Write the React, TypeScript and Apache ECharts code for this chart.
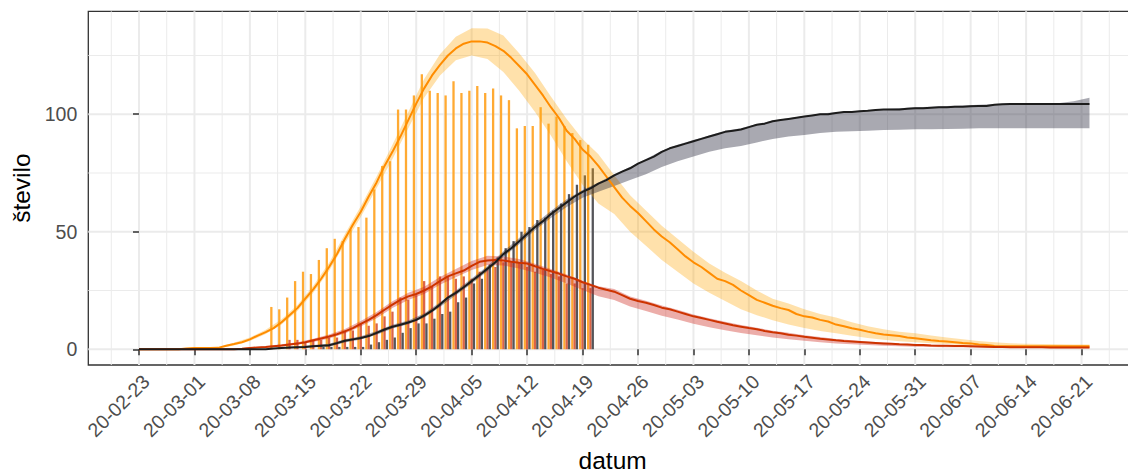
import { useEffect, useRef } from 'react';
import * as echarts from 'echarts';

const FONT = 'Liberation Sans';

// x values are days counted from 2020-02-23
const tickLabels = ['20-02-23', '20-03-01', '20-03-08', '20-03-15', '20-03-22', '20-03-29', '20-04-05', '20-04-12', '20-04-19', '20-04-26', '20-05-03', '20-05-10', '20-05-17', '20-05-24', '20-05-31', '20-06-07', '20-06-14', '20-06-21'];
const tickDays = [0, 7, 14, 21, 28, 35, 42, 49, 56, 63, 70, 77, 84, 91, 98, 105, 112, 119];
const minorXDays = [-3.5, 3.5, 10.5, 17.5, 24.5, 31.5, 38.5, 45.5, 52.5, 59.5, 66.5, 73.5, 80.5, 87.5, 94.5, 101.5, 108.5, 115.5, 122.5];
const yTicks = [0, 50, 100];
const yMinor = [25, 75, 125];

// model lines, one value per day, day 0 .. day 120
const orangeLine = [
  0, 0, 0, 0, 0, 0, 0.3, 0.5, 0.5, 0.5, 0.6,
  1.5, 2.2, 3, 4.2, 5.8, 7.3, 9, 11.5, 14.5, 17.5,
  21.5, 25.5, 30, 35, 40.5, 47, 53, 58.5, 65, 71,
  78, 84, 90.5, 97.5, 104.5, 111, 116.5, 121, 125, 128,
  130, 131, 131, 130.5, 129, 127, 124, 120.5, 117, 112.5,
  108, 103, 98.5, 93, 89.5, 85, 82, 78, 73.5, 69,
  64.5, 61, 58, 54.5, 51, 48, 45.5, 42.5, 39.5, 37,
  35, 32.5, 30, 29, 27.4, 25, 23, 21, 19.8, 18.5,
  17.5, 16.7, 15, 14, 13.5, 12.5, 11.8, 10.5, 9.8, 8.9,
  8.3, 7.5, 6.8, 6.3, 6, 5.6, 5, 4.7, 4.3, 3.8,
  3.5, 3.3, 3, 2.7, 2.5, 2, 1.8, 1.4, 1.3, 1.3,
  1.3, 1.3, 1.3, 1.3, 1.3, 1.3, 1.3, 1.3, 1.3, 1.3,
];
const redLine = [
  0, 0, 0, 0, 0, 0, 0, 0, 0, 0, 0, 0, 0,
  0.2, 0.5, 0.8, 1, 1.3, 1.6, 2, 2.4,
  3, 3.8, 4.6, 5.4, 6.4, 7.6, 9, 10.8, 12.5, 14.5,
  16.8, 19, 21, 22.5, 23.5, 25, 26.8, 29, 31, 32.3,
  33.5, 35.5, 37.2, 37.8, 38, 37.8, 37.2, 36.8, 36.5, 35.3,
  34.2, 33.2, 32.2, 31, 30, 28.5, 27.4, 26.2, 25.3, 24.5,
  23, 21.5, 20.5, 19.8, 18.8, 17.7, 17, 16, 15, 14,
  13.3, 12.5, 11.7, 11, 10.2, 9.6, 9, 8.5, 7.8, 7.2,
  6.8, 6.2, 5.8, 5.3, 4.9, 4.5, 4.2, 3.8, 3.5, 3.3,
  3.1, 2.9, 2.7, 2.5, 2.3, 2.1, 2, 1.8, 1.8, 1.6,
  1.5, 1.5, 1.4, 1.4, 1.3, 1.2, 1.1, 1, 1, 0.9,
  0.9, 0.8, 0.8, 0.8, 0.7, 0.7, 0.7, 0.7, 0.7, 0.7,
];
const blackLine = [
  0, 0, 0, 0, 0, 0, 0, 0, 0, 0, 0, 0, 0, 0, 0, 0, 0,
  0.3, 0.5, 0.7, 0.9,
  1, 1.3, 1.5, 1.7, 2.6, 3.6, 4.2, 4.8, 5.6, 7,
  8.4, 9.6, 10.4, 11.4, 12.5, 14.3, 16.4, 19, 22, 24,
  26.4, 29, 31.6, 34.3, 37, 40.5, 43, 46, 49, 52,
  54.5, 57.5, 60, 62.5, 65, 67, 68.5, 70.5, 72, 74,
  75.6, 77, 79, 80.5, 82, 84, 85.5, 86.5, 87.5, 88.5,
  89.5, 90.5, 91.5, 92.5, 93, 93.5, 94.5, 95.5, 96, 97,
  97.5, 98, 98.5, 99, 99.5, 100, 100, 100.5, 101, 101,
  101.3, 101.5, 101.8, 102, 102, 102, 102.3, 102.5, 102.5, 102.8,
  103, 103, 103.2, 103.2, 103.4, 103.5, 103.5, 104, 104.3, 104.4,
  104.4, 104.4, 104.4, 104.4, 104.4, 104.4, 104.4, 104.4, 104.4, 104.4,
];

// ribbons, one pair of bounds every second day, day 0 .. day 120
const ribbonDays = [0, 2, 4, 6, 8, 10, 12, 14, 16, 18, 20, 22, 24, 26, 28, 30, 32, 34, 36, 38, 40, 42, 44, 46, 48, 50, 52, 54, 56, 58, 60, 62, 64, 66, 68, 70, 72, 74, 76, 78, 80, 82, 84, 86, 88, 90, 92, 94, 96, 98, 100, 102, 104, 106, 108, 110, 112, 114, 116, 118, 120];
const orangeLo = [0, 0, 0, 0.1, 0.3, 0.3, 1.6, 3.5, 6.5, 10.5, 16.3, 24, 33.3, 45, 56.3, 68.5, 81, 94, 107, 116.5, 123, 125, 123.5, 118, 110, 101, 91, 80, 70, 62, 57.5, 50, 44, 38, 33, 28, 24, 20.5, 17, 14.5, 12.3, 10.5, 9, 7.8, 6.8, 5.7, 4.8, 4, 3.4, 3, 2.6, 2.2, 1.8, 1.4, 1, 0.9, 0.9, 0.9, 0.9, 0.9, 0.9];
const orangeHi = [0, 0, 0.2, 0.6, 0.8, 1, 2.8, 5, 8.3, 12.8, 18.8, 27, 36.8, 49, 60.8, 73.5, 87, 101, 115, 125.5, 133, 136.6, 136.5, 133.5, 126, 117.5, 107.5, 98, 89.5, 83, 74, 65.5, 59, 52.5, 47, 41.5, 36.5, 32.5, 29, 25, 21.5, 19.5, 17, 15, 13.5, 11.5, 9.8, 8.5, 7.5, 6.8, 5.8, 5, 4.3, 3.5, 3, 2.6, 2.3, 2.2, 2.1, 2, 2];
const redLo = [0, 0, 0, 0, 0, 0, 0, 0.2, 0.6, 1.2, 1.9, 3.1, 4.6, 6.7, 9.7, 13.2, 17.6, 21, 23.5, 27.4, 30.6, 33.7, 35.8, 35.6, 34.4, 32.6, 30.5, 28, 25.2, 22.6, 21, 18.2, 16.3, 14.3, 12.7, 10.8, 9.4, 8.1, 6.9, 6, 5, 4.3, 3.6, 3, 2.5, 2.1, 1.8, 1.5, 1.3, 1.1, 1, 0.9, 0.8, 0.7, 0.6, 0.5, 0.5, 0.5, 0.4, 0.4, 0.4];
const redHi = [0, 0, 0, 0, 0, 0, 0.1, 0.8, 1.4, 2.1, 3, 4.5, 6.3, 8.6, 12, 15.8, 20.4, 24, 26.6, 30.7, 34.2, 37.5, 39.8, 39.5, 38.4, 36.4, 34.2, 31.8, 29.2, 26.8, 25.6, 22.5, 20.6, 18.6, 16.8, 14.8, 13.2, 11.7, 10.3, 9.2, 7.9, 7, 6, 5.2, 4.4, 3.8, 3.3, 2.9, 2.5, 2.2, 1.9, 1.8, 1.7, 1.5, 1.3, 1.2, 1.1, 1.1, 1, 1, 1];
const blackLo = [0, 0, 0, 0, 0, 0, 0, 0, 0, 0.2, 0.5, 0.8, 1.1, 2.9, 4.1, 6.2, 8.8, 10.6, 13.4, 18, 23, 27.9, 33.2, 39.3, 44.7, 50.6, 55.8, 60.5, 64.5, 67, 69.5, 72, 74.5, 77.5, 80, 82, 84, 85.5, 86.5, 88, 89.5, 90.5, 91.2, 92, 92.5, 92.8, 93, 93.3, 93.4, 93.6, 93.6, 93.7, 93.8, 94, 94, 94, 94, 94, 94, 94, 94];
const blackHi = [0, 0, 0, 0, 0, 0, 0, 0, 0, 0.8, 1.3, 1.8, 2.3, 4.3, 5.5, 7.8, 10.4, 12.2, 15.2, 20, 25, 30.1, 35.4, 41.7, 47.3, 53.4, 58.8, 63.8, 67.8, 71, 74.5, 77.5, 81, 84.5, 87, 89, 91, 93, 94, 95.8, 97.3, 98.3, 99.3, 100.3, 100.8, 101.3, 101.7, 102.2, 102.5, 103, 103.2, 103.5, 103.7, 104, 104.4, 104.6, 104.6, 104.6, 104.7, 105.5, 107];

// observed daily bars, day 17 .. day 57
const barStartDay = 17;
const orangeBars = [18, 17, 22, 29, 33, 32, 38, 43, 47, 46, 51, 52, 56, 68, 78, 80, 102, 102, 108, 117, 110, 109, 108, 114, 109, 110, 112, 109, 111, 108, 106, 94, 95, 95, 103, 96, 99, 95, 92, 89, 87];
const redBars = [0, 0, 4, 4, 3, 4, 4, 5, 5, 8, 8, 11, 10, 11, 14, 16, 22, 21, 23, 29, 27, 31, 31, 30, 31, 30, 33, 34, 35, 37, 37, 37, 35, 33, 34, 32, 31, 28, 28, 26, 26];
const grayBars = [0, 0, 0, 0, 0, 0, 1, 1, 1, 1, 1, 1, 2, 3, 4, 5, 7, 9, 11, 11, 13, 15, 16, 20, 22, 28, 30, 36, 39, 43, 46, 50, 52, 55, 56, 59, 62, 66, 70, 74, 77];

const dayPairs = (vals: number[], start: number) => vals.map((v, i) => [start + i, v]);

function ribbon(lo: number[], hi: number[], fill: string) {
  return {
    type: 'custom',
    z: 3,
    silent: true,
    data: ribbonDays.map((d, i) => [d, lo[i], hi[i]]),
    encode: { x: 0, y: [1, 2] },
    renderItem: (params: any, api: any) => {
      if (params.dataIndex !== 0) return null;
      const upper = ribbonDays.map((d, i) => api.coord([d, hi[i]]));
      const lower = ribbonDays.map((d, i) => api.coord([d, lo[i]])).reverse();
      return { type: 'polygon', shape: { points: upper.concat(lower) }, style: { fill } };
    },
  };
}

function line(vals: number[], color: string) {
  return {
    type: 'line',
    z: 4,
    silent: true,
    data: dayPairs(vals, 0),
    showSymbol: false,
    symbol: 'none',
    lineStyle: { color, width: 2 },
  };
}

function bars(vals: number[], color: string) {
  return {
    type: 'bar',
    z: 2,
    silent: true,
    data: dayPairs(vals, barStartDay),
    barWidth: 2.3,
    barGap: '0%',
    itemStyle: { color },
  };
}

export default function App() {
  const ref = useRef<HTMLDivElement>(null);
  useEffect(() => {
    if (!ref.current) return;
    const chart = echarts.init(ref.current, undefined, { renderer: 'svg' });
    const vGrid = [...tickDays.map((d) => [d, 1]), ...minorXDays.map((d) => [d, 0])];
    const hGrid = [...yTicks.map((v) => [0, v, 1]), ...yMinor.map((v) => [0, v, 0])];
    chart.setOption({
      animation: false,
      backgroundColor: '#ffffff',
      textStyle: { fontFamily: FONT },
      grid: {
        left: 88.3,
        top: 11.3,
        width: 1048.7,
        height: 353.7,
        containLabel: false,
        outerBoundsMode: 'none',
        show: true,
        borderColor: '#333333',
        borderWidth: 1.3,
        backgroundColor: 'transparent',
      },
      xAxis: {
        type: 'value',
        min: -6.4,
        max: 126,
        axisLine: { show: false },
        splitLine: { show: false },
        axisTick: { show: true, customValues: tickDays, length: 6, lineStyle: { color: '#333333', width: 1.5 } },
        axisLabel: {
          customValues: tickDays,
          rotate: 45,
          margin: 6,
          verticalAlign: 'top',
          fontSize: 19.5,
          color: '#4D4D4D',
          fontFamily: FONT,
          formatter: (v: number) => tickLabels[tickDays.indexOf(v)] ?? '',
        },
        name: 'datum',
        nameLocation: 'middle',
        nameGap: 83,
        nameTextStyle: { fontSize: 24.5, color: '#000000', fontFamily: FONT },
      },
      yAxis: {
        type: 'value',
        min: -6.7,
        max: 143.8,
        axisLine: { show: false },
        splitLine: { show: false },
        axisTick: { show: true, customValues: yTicks, length: 6, lineStyle: { color: '#333333', width: 1.5 } },
        axisLabel: { customValues: yTicks, margin: 11, fontSize: 19.5, color: '#4D4D4D', fontFamily: FONT },
        name: 'število',
        nameLocation: 'middle',
        nameGap: 47,
        nameTextStyle: { fontSize: 24.5, color: '#000000', fontFamily: FONT },
      },
      series: [
        {
          type: 'custom',
          z: 0,
          silent: true,
          data: vGrid,
          encode: { x: 0, y: 1 },
          renderItem: (params: any, api: any) => {
            const cs = params.coordSys;
            const x = api.coord([api.value(0), 0])[0];
            return {
              type: 'line',
              shape: { x1: x, y1: cs.y, x2: x, y2: cs.y + cs.height },
              style: { stroke: '#EBEBEB', lineWidth: api.value(1) ? 2 : 1 },
            };
          },
        },
        {
          type: 'custom',
          z: 0,
          silent: true,
          data: hGrid,
          encode: { x: 0, y: 1 },
          renderItem: (params: any, api: any) => {
            const cs = params.coordSys;
            const y = api.coord([0, api.value(1)])[1];
            return {
              type: 'line',
              shape: { x1: cs.x, y1: y, x2: cs.x + cs.width, y2: y },
              style: { stroke: '#EBEBEB', lineWidth: api.value(2) ? 2 : 1 },
            };
          },
        },
        bars(orangeBars, '#FFAA33'),
        bars(redBars, '#DC6446'),
        bars(grayBars, '#55555A'),
        ribbon(orangeLo, orangeHi, 'rgba(255,165,0,0.33)'),
        ribbon(redLo, redHi, 'rgba(205,40,30,0.38)'),
        ribbon(blackLo, blackHi, 'rgba(40,40,60,0.4)'),
        line(orangeLine, '#FF8C00'),
        line(redLine, '#CD3300'),
        line(blackLine, '#1C1C1C'),
      ],
    });
    return () => chart.dispose();
  }, []);
  return <div ref={ref} style={{ position: 'absolute', left: 0, top: 0, width: 1128, height: 473 }} />;
}
